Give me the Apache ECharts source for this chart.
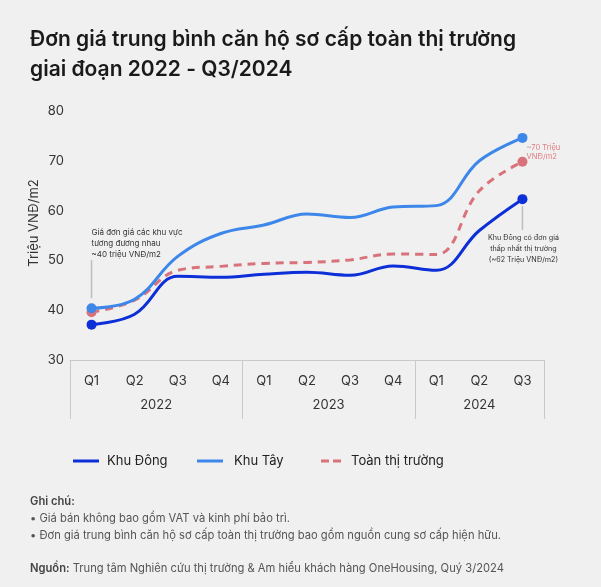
<!DOCTYPE html>
<html>
<head>
<meta charset="utf-8">
<script src="https://cdn.jsdelivr.net/npm/echarts@6/dist/echarts.min.js"></script>
<style>
html,body{margin:0;padding:0;background:#f0f0f0;}
#c{width:601px;height:587px;}
</style>
</head>
<body>
<div id="c"></div>
<script>
// ---- data ----
var categories = ['2022-Q1','2022-Q2','2022-Q3','2022-Q4','2023-Q1','2023-Q2','2023-Q3','2023-Q4','2024-Q1','2024-Q2','2024-Q3'];
var years = ['2022','2023','2024'];
var yearSpans = [4, 4, 3];
var khuDong = [37.1, 39.2, 46.8, 46.6, 47.2, 47.6, 47.0, 48.9, 48.0, 56.0, 62.3];
var khuTay = [40.4, 42.2, 50.8, 55.4, 57.1, 59.3, 58.6, 60.7, 61.0, 70.0, 74.6];
var toanThiTruong = [39.6, 42.0, 48.0, 48.8, 49.4, 49.6, 50.1, 51.3, 51.2, 64.0, 69.8];
var seriesNames = ['Khu Đông', 'Khu Tây', 'Toàn thị trường'];
var yTicks = [30, 40, 50, 60, 70, 80];

var FONT = 'Inter, "Noto Sans", sans-serif';
var cDong = '#0d2fd8', cTay = '#3d87ea', cToan = '#d9737b';

function markEnds(arr){
  return arr.map(function(v, i){
    if (i === 0 || i === arr.length - 1) return {value: v, symbol: 'circle', symbolSize: 10};
    return {value: v};
  });
}

var chart = echarts.init(document.getElementById('c'));
var option = {
  backgroundColor: '#f0f0f0',
  animation: false,
  title: {
    text: 'Đơn giá trung bình căn hộ sơ cấp toàn thị trường\ngiai đoạn 2022 - Q3/2024',
    left: 25, top: 20,
    textStyle: {fontFamily: FONT, fontSize: 21, fontWeight: 600, color: '#1a1a1a', lineHeight: 30}
  },
  grid: {left: 70, right: 57, top: 111, bottom: 227},
  xAxis: {
    type: 'category',
    data: categories,
    boundaryGap: true,
    axisLine: {show: true, lineStyle: {color: '#c9c9c9', width: 1}},
    axisTick: {show: false},
    axisLabel: {
      margin: 15, fontFamily: FONT, fontSize: 13, color: '#333',
      formatter: function(v){ return v.split('-')[1]; }
    }
  },
  yAxis: {
    type: 'value', min: yTicks[0], max: yTicks[yTicks.length-1], interval: 10,
    splitLine: {show: false},
    axisLine: {show: false}, axisTick: {show: false},
    axisLabel: {margin: 6, fontFamily: FONT, fontSize: 13, color: '#333'}
  },
  series: [
    {name: seriesNames[0], type: 'line', data: markEnds(khuDong), smooth: 0.4, symbol: 'none',
     lineStyle: {color: cDong, width: 3}, itemStyle: {color: cDong}, z: 4},
    {name: seriesNames[1], type: 'line', data: markEnds(khuTay), smooth: 0.4, symbol: 'none',
     lineStyle: {color: cTay, width: 3}, itemStyle: {color: cTay}, z: 3},
    {name: seriesNames[2], type: 'line', data: markEnds(toanThiTruong), smooth: 0.4, symbol: 'none',
     lineStyle: {color: cToan, width: 3, type: [8, 6]}, itemStyle: {color: cToan}, z: 2}
  ]
};
chart.setOption(option);

// ---- overlays positioned through the chart's own scales ----
function px(i, v){ return chart.convertToPixel({gridIndex: 0}, [i, v]); }
var p0 = px(0, 30), p1 = px(1, 30);
var band = p1[0] - p0[0];
var axisY = p0[1];
var boxBottom = 419;
var g = [];
// vertical separators of the axis box
var idx = 0;
var bounds = [0];
yearSpans.forEach(function(s){ idx += s; bounds.push(idx); });
bounds.forEach(function(b){
  var x = Math.round(p0[0] - band/2 + b*band) + 0.5;
  g.push({type: 'line', shape: {x1: x, y1: axisY, x2: x, y2: boxBottom}, style: {stroke: '#c9c9c9', lineWidth: 1}, silent: true});
});
// year labels
var start = 0;
yearSpans.forEach(function(s, k){
  var cx = p0[0] + (start + (s-1)/2) * band;
  g.push({type: 'text', x: cx, y: 405, style: {text: years[k], fontFamily: FONT, fontSize: 13, fill: '#333', align: 'center', verticalAlign: 'middle'}});
  start += s;
});

// y axis name
g.push({type: 'text', x: 34, y: 223, rotation: Math.PI/2,
  style: {text: 'Triệu VNĐ/m2', fontFamily: FONT, fontSize: 13, fill: '#333', align: 'center', verticalAlign: 'middle'}});

// annotations
var a1 = px(0, khuTay[0]);
g.push({type: 'line', shape: {x1: a1[0], y1: a1[1]-48, x2: a1[0], y2: a1[1]-10}, style: {stroke: '#bdbdbd', lineWidth: 1.5}});
['Giá đơn giá các khu vực', 'tương đương nhau', '~40 triệu VNĐ/m2'].forEach(function(t, k){
  g.push({type: 'text', x: a1[0], y: a1[1]-76 + k*11, style: {text: t, fontFamily: FONT, fontSize: 8, fill: '#333', align: 'left', verticalAlign: 'middle'}});
});
var last = categories.length - 1;
var a2 = px(last, khuDong[last]);
g.push({type: 'line', shape: {x1: a2[0], y1: a2[1]+7, x2: a2[0], y2: a2[1]+31}, style: {stroke: '#bdbdbd', lineWidth: 1.5}});
['Khu Đông có đơn giá', 'thấp nhất thị trường', '(~62 Triệu VNĐ/m2)'].forEach(function(t, k){
  g.push({type: 'text', x: a2[0]+1, y: a2[1]+39 + k*11, style: {text: t, fontFamily: FONT, fontSize: 7.2, fill: '#333', align: 'center', verticalAlign: 'middle'}});
});
var a3 = px(last, toanThiTruong[last]);
['~70 Triệu', 'VNĐ/m2'].forEach(function(t, k){
  g.push({type: 'text', x: a3[0]+4, y: a3[1]-14 + k*9, style: {text: t, fontFamily: FONT, fontSize: 7.5, fill: '#df7d84', align: 'left', verticalAlign: 'middle'}});
});

// legend
var ly = 461;
g.push({type: 'rect', shape: {x: 73, y: ly-1.5, width: 26, height: 3}, style: {fill: cDong}});
g.push({type: 'text', x: 107, y: ly, style: {text: seriesNames[0], fontFamily: FONT, fontSize: 13, fill: '#222', verticalAlign: 'middle'}});
g.push({type: 'rect', shape: {x: 197, y: ly-1.5, width: 26, height: 3}, style: {fill: cTay}});
g.push({type: 'text', x: 234, y: ly, style: {text: seriesNames[1], fontFamily: FONT, fontSize: 13, fill: '#222', verticalAlign: 'middle'}});
g.push({type: 'rect', shape: {x: 321, y: ly-1.5, width: 8, height: 3}, style: {fill: cToan}});
g.push({type: 'rect', shape: {x: 333, y: ly-1.5, width: 8, height: 3}, style: {fill: cToan}});
g.push({type: 'text', x: 351, y: ly, style: {text: seriesNames[2], fontFamily: FONT, fontSize: 13, fill: '#222', verticalAlign: 'middle'}});

// footer notes
var FS = 11.2;
var noteStyle = {fontFamily: FONT, fontSize: FS, fill: '#555', verticalAlign: 'middle'};
g.push({type: 'text', x: 30, y: 502, style: Object.assign({}, noteStyle, {text: 'Ghi chú:', fontWeight: 600, fill: '#444'})});
g.push({type: 'text', x: 30, y: 519, style: Object.assign({}, noteStyle, {text: '• Giá bán không bao gồm VAT và kinh phí bảo trì.'})});
g.push({type: 'text', x: 30, y: 536, style: Object.assign({}, noteStyle, {text: '• Đơn giá trung bình căn hộ sơ cấp toàn thị trường bao gồm nguồn cung sơ cấp hiện hữu.'})});
g.push({type: 'text', x: 30, y: 569, style: {
  text: '{b|Nguồn:} Trung tâm Nghiên cứu thị trường & Am hiểu khách hàng OneHousing, Quý 3/2024',
  fontFamily: FONT, fontSize: FS, fill: '#555', verticalAlign: 'middle',
  rich: {b: {fontFamily: FONT, fontSize: FS, fontWeight: 600, fill: '#444'}}
}});

chart.setOption({graphic: {elements: g}});
</script>
</body>
</html>
